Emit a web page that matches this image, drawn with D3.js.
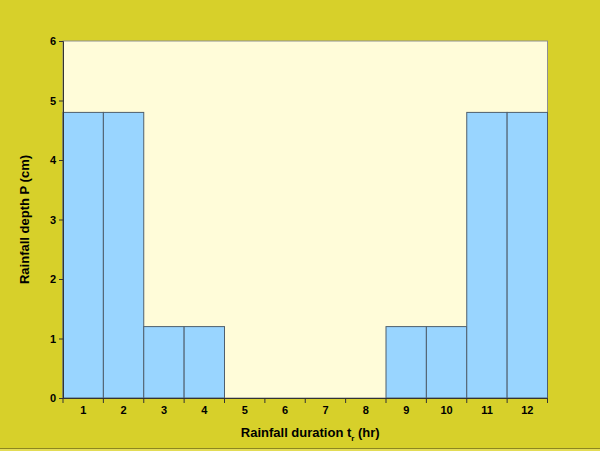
<!DOCTYPE html>
<html><head><meta charset="utf-8">
<script src="https://cdn.jsdelivr.net/npm/d3@7"></script>
<style>html,body{margin:0;padding:0;background:#D7D02A;}svg{display:block;}</style>
</head><body>
<svg id="c" width="600" height="451"></svg>
<script>
const categories = ["1","2","3","4","5","6","7","8","9","10","11","12"];
const depths = [4.8,4.8,1.2,1.2,0,0,0,0,1.2,1.2,4.8,4.8];
const yTicks = [0,1,2,3,4,5,6];

const W=600,H=451;
const m={l:63,t:41,r:547.5,b:398};
const svg=d3.select("#c");
svg.append("rect").attr("width",W).attr("height",H).attr("fill","#D7D02A");
svg.append("line").attr("x1",0).attr("x2",W).attr("y1",448.5).attr("y2",448.5).attr("stroke","#8C8620").attr("stroke-width",1);
svg.append("rect").attr("x",0).attr("y",449).attr("width",W).attr("height",2).attr("fill","#E3DC55");

const x=d3.scaleBand().domain(categories).range([m.l,m.r]).padding(0);
const y=d3.scaleLinear().domain([0,6]).range([m.b,m.t]);

svg.append("rect").attr("x",m.l).attr("y",m.t).attr("width",m.r-m.l).attr("height",m.b-m.t)
  .attr("fill","#FFFCD9").attr("stroke","#8F8F8F").attr("stroke-width",1);

svg.append("g").selectAll("rect").data(depths).join("rect")
  .attr("x",(d,i)=>x(categories[i])).attr("y",d=>y(d))
  .attr("width",x.bandwidth()).attr("height",d=>y(0)-y(d))
  .attr("fill","#99D5FF").attr("stroke","#4F5F6D").attr("stroke-width",1)
  .style("display",d=>d>0?null:"none");

const font="Arial, 'Liberation Sans', sans-serif";
// y axis
const ya=svg.append("g").attr("transform",`translate(${m.l},0)`)
  .call(d3.axisLeft(y).tickValues(yTicks).tickSize(4).tickPadding(3).tickFormat(d3.format("d")));
ya.select(".domain").attr("stroke","#333");
ya.selectAll(".tick line").attr("stroke","#333");
ya.selectAll("text").attr("font-family",font).attr("font-size","11px").attr("font-weight","bold").attr("fill","#000");

// x axis
const xa=svg.append("g").attr("transform",`translate(0,${m.b})`)
  .call(d3.axisBottom(x).tickSize(0).tickPadding(8));
xa.select(".domain").attr("stroke","#333");
xa.selectAll("text").attr("font-family",font).attr("font-size","11px").attr("font-weight","bold").attr("fill","#000");
// boundary ticks
const bounds=categories.map(c=>x(c)).concat([x(categories[categories.length-1])+x.bandwidth()]);
svg.append("g").selectAll("line").data(bounds).join("line")
  .attr("x1",d=>d).attr("x2",d=>d).attr("y1",m.b).attr("y2",m.b+5).attr("stroke","#333");

// titles
const xt=svg.append("text").attr("x",(m.l+m.r)/2+5).attr("y",437).attr("text-anchor","middle")
  .attr("font-family",font).attr("font-weight","bold").attr("font-size","13px").attr("fill","#000");
xt.append("tspan").text("Rainfall duration t");
xt.append("tspan").attr("font-size","8px").attr("dy",4).text("r");
xt.append("tspan").attr("dy",-4).text(" (hr)");

svg.append("text").attr("transform",`translate(29,${(m.t+m.b)/2}) rotate(-90)`).attr("text-anchor","middle")
  .attr("font-family",font).attr("font-weight","bold").attr("font-size","13px").attr("fill","#000")
  .text("Rainfall depth P (cm)");
</script>
</body></html>
